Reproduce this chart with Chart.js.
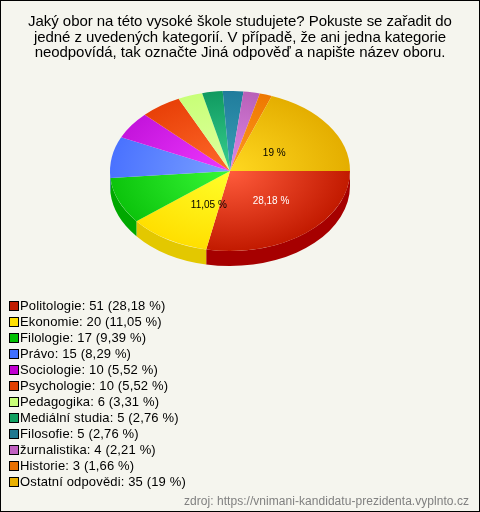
<!DOCTYPE html>
<html>
<head>
<meta charset="utf-8">
<script src="https://cdn.jsdelivr.net/npm/chart.js@4"></script>
<style>
html, body { margin: 0; padding: 0; background: #f5f5ee; }
#wrap { position: relative; width: 480px; height: 512px; overflow: hidden; font-family: "Liberation Sans", Arial, sans-serif; }
#wrap::after { content: ""; position: absolute; left: 0; top: 0; width: 478px; height: 510px; border: 1px solid #000; }
canvas { position: absolute; left: 0; top: 0; }
#title { position: absolute; left: 0; top: 13px; width: 480px; text-align: center; font-size: 15px; line-height: 15.5px; letter-spacing: -0.05px; color: #000; }
#title div { white-space: nowrap; }
#legend { position: absolute; left: 9px; top: 298px; font-size: 13px; line-height: 16px; color: #000; letter-spacing: 0.15px; }
#legend div { height: 16px; white-space: nowrap; }
#legend i { display: inline-block; width: 8px; height: 8px; border: 1px solid #000; margin-right: 1px; vertical-align: -1px; }
#source { position: absolute; right: 11px; top: 494px; font-size: 12px; letter-spacing: 0.04px; color: #808080; white-space: nowrap; }
</style>
</head>
<body>
<div id="wrap">
  <canvas id="chart" width="480" height="512"></canvas>
  <div id="title"></div>
  <div id="legend"></div>
  <div id="source">zdroj: https://vnimani-kandidatu-prezidenta.vyplnto.cz</div>
</div>
<script>
const titleLines = [
    'Jaký obor na této vysoké škole studujete? Pokuste se zařadit do',
    'jedné z uvedených kategorií. V případě, že ani jedna kategorie',
    'neodpovídá, tak označte Jiná odpověď a napište název oboru.'
];
const categories = ['Politologie', 'Ekonomie', 'Filologie', 'Právo', 'Sociologie', 'Psychologie',
    'Pedagogika', 'Mediální studia', 'Filosofie', 'žurnalistika', 'Historie', 'Ostatní odpovědi'];
const counts = [51, 20, 17, 15, 10, 10, 6, 5, 5, 4, 3, 35];
const percents = ['28,18 %', '11,05 %', '9,39 %', '8,29 %', '5,52 %', '5,52 %',
    '3,31 %', '2,76 %', '2,76 %', '2,21 %', '1,66 %', '19 %'];

const innerColors = ['#ff5c3c', '#ffff2a', '#38f838', '#7aa0ff', '#ee38ff', '#ff6a2a',
    '#e0ffa0', '#38d090', '#3aa0b8', '#e088e8', '#ff9a20', '#ffd820'];
const outerColors = ['#c21a00', '#ffdf00', '#0cc40c', '#4a72ff', '#c414dc', '#e84008',
    '#c8ff78', '#109a60', '#207c9c', '#b860b8', '#ee7800', '#e4ae00'];
const legendColors = ['#c01c00', '#ffe000', '#00c000', '#4070ff', '#c000d0', '#e04000',
    '#c8ff78', '#10a060', '#207890', '#c060c0', '#e87000', '#e8b000'];
const sideColors = ['#a60000', '#e3c800', '#00a800', '#3050d0', '#9000a0', '#b03000',
    '#a0d060', '#008040', '#106070', '#904890', '#c06000', '#c09000'];

// tilt of the pie
const squash = 0.667;
const depth = 15;
// only these slices carry a label on the pie
const labelled = { 0: ['#fff', 3, -1], 1: ['#000', 10, 0], 11: ['#000', -5, 5] };

// title and legend list
titleLines.forEach(t => {
    const line = document.createElement('div');
    line.textContent = t;
    document.getElementById('title').appendChild(line);
});
const legendBox = document.getElementById('legend');
categories.forEach((c, i) => {
    const row = document.createElement('div');
    const box = document.createElement('i');
    box.style.background = legendColors[i];
    row.appendChild(box);
    row.appendChild(document.createTextNode(c + ': ' + counts[i] + ' (' + percents[i] + ')'));
    legendBox.appendChild(row);
});

const pie3d = {
    id: 'pie3d',
    beforeDatasetsDraw(chart) {
        const ctx = chart.ctx;
        const arcs = chart.getDatasetMeta(0).data;
        const cx = arcs[0].x, cy = arcs[0].y;
        ctx.save();
        ctx.translate(cx, cy);
        ctx.scale(1, squash);
        ctx.translate(-cx, -cy);
        // side wall, only the front half can be seen
        arcs.forEach((a, i) => {
            const from = Math.max(a.startAngle, 0);
            const to = Math.min(a.endAngle, Math.PI);
            if (to <= from) return;
            ctx.beginPath();
            ctx.arc(cx, cy, a.outerRadius, from, to);
            ctx.arc(cx, cy + depth / squash, a.outerRadius, to, from, true);
            ctx.closePath();
            ctx.fillStyle = sideColors[i];
            ctx.fill();
        });
    },
    afterDatasetsDraw(chart) {
        const ctx = chart.ctx;
        ctx.restore();
        const arcs = chart.getDatasetMeta(0).data;
        ctx.save();
        ctx.font = '10px "Liberation Sans", Arial, sans-serif';
        ctx.textAlign = 'center';
        ctx.textBaseline = 'middle';
        Object.keys(labelled).forEach(k => {
            const a = arcs[k];
            const p = a.tooltipPosition();
            const [col, dx, dy] = labelled[k];
            ctx.fillStyle = col;
            ctx.fillText(percents[k], p.x + dx, a.y + (p.y - a.y) * squash + dy);
        });
        ctx.restore();
    }
};

new Chart(document.getElementById('chart'), {
    type: 'pie',
    data: {
        labels: categories,
        datasets: [{
            data: counts,
            clip: false,
            borderWidth: 0,
            backgroundColor: c => {
                const area = c.chart.chartArea;
                if (!area) return legendColors[c.dataIndex];
                const x = (area.left + area.right) / 2;
                const y = (area.top + area.bottom) / 2;
                const r = Math.min(area.width, area.height) / 2;
                const g = c.chart.ctx.createRadialGradient(x, y, 0, x, y, r);
                g.addColorStop(0, innerColors[c.dataIndex]);
                g.addColorStop(1, outerColors[c.dataIndex]);
                return g;
            }
        }]
    },
    options: {
        responsive: false,
        animation: false,
        rotation: 90,
        layout: { padding: { left: 110, right: 130, top: 51, bottom: 221 } },
        plugins: {
            legend: { display: false },
            tooltip: { enabled: false },
            title: { display: false }
        }
    },
    plugins: [pie3d]
});
</script>
</body>
</html>
